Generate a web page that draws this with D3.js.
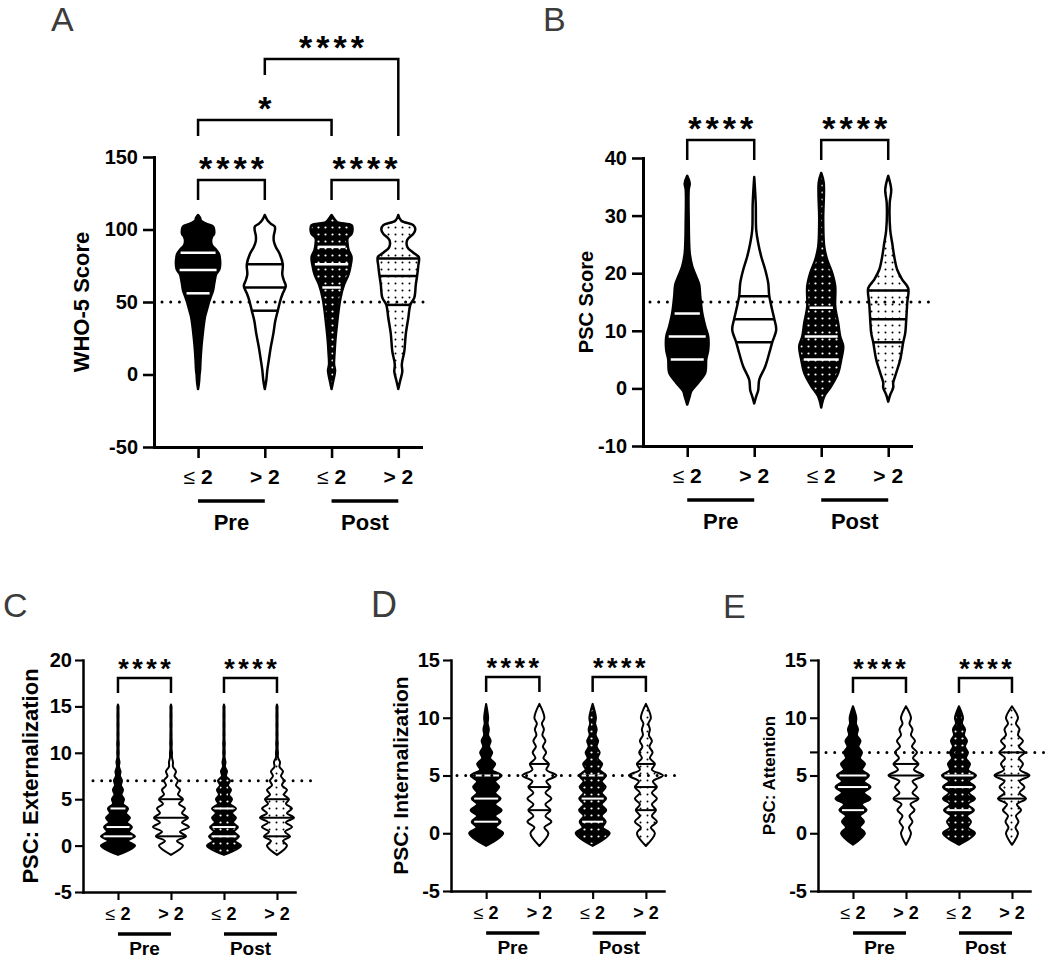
<!DOCTYPE html>
<html>
<head>
<meta charset="utf-8">
<script src="https://cdn.jsdelivr.net/npm/d3@7"></script>
<style>
body { margin: 0; background: #fff; }
svg { display: block; }
text { font-family: "Liberation Sans", Arial, sans-serif; }
</style>
</head>
<body>
<div id="fig"></div>
<script>
// ---- data ----
const groupLabels = ["≤ 2", "> 2", "≤ 2", "> 2"];
const periodLabels = ["Pre", "Post"];

// A: WHO-5, density profiles as [score, relative width]
const who5Ticks = [-50, 0, 50, 100, 150];
const who5Cutoff = 50;
const who5Quartiles = [[56, 72, 84], [44, 60, 76], [60, 76, 88], [48, 68, 80]];
const who5Density = [
  [[-10,0],[-5,1],[0,1.5],[3,2],[10,2.5],[20,3.5],[30,5],[40,7],[45,9],[50,11],[54,13],[58,15],[62,16],[66,17],[69,18],[72,21],[75,22],[79,22],[83,21],[86,18],[89,14],[92,13],[95,14],[97,16],[100,16],[102,15],[104,8],[106,3],[108,2],[110,0]],
  [[-10,0],[-4,1.5],[3,2.5],[10,4],[19,6],[28,8.5],[37,10.5],[44,13],[51,15.5],[56,18],[61,21],[65,19],[69,17.5],[76,18],[83,15],[88,11],[92,9],[96,9],[99,10],[102,10],[104,6],[106,3],[110,0]],
  [[-10,0],[-5,1.5],[0,3],[3,3.5],[7,2.5],[15,3],[25,4],[35,5.5],[44,7],[53,9],[62,12.5],[69,17],[75,19],[81,20],[86,17],[90,16],[94,16],[97,20],[100,21],[103,20],[105,6],[107,3],[110,0]],
  [[-10,0],[-4,2],[2,4],[7,3.5],[16,6],[28,7.5],[39,10],[48,12],[53,16],[62,17.5],[69,19],[75,20],[81,20.5],[84,15],[88,9],[93,9],[97,15],[100,17],[103,15],[106,3],[110,0]]
];
const who5Stats = [[0, 1, "****"], [2, 3, "****"], [0, 2, "*"], [1, 3, "****"]];

// B: PSC total
const pscTicks = [-10, 0, 10, 20, 30, 40];
const pscCutoff = 15;
const pscQuartiles = [[5, 9, 13], [8, 12, 16], [5, 9, 14], [8, 12, 17]];
const pscDensity = [
  [[-2.8,0],[-1.4,2.5],[-0.5,4],[1,11],[2.7,18],[5,19],[6.7,21],[9,21],[10.8,18],[13.1,15],[16,13],[18,12],[19.4,9],[21.2,5],[23.5,2.5],[29.3,1.5],[34.5,1.5],[35.6,2.5],[36.9,0]],
  [[-2.6,0],[-1.4,2],[-0.3,4],[1.5,5],[3.8,11],[6.1,15],[8,18],[10.2,22],[12.1,20],[13.6,18],[16.1,15],[18.3,14],[20.6,11],[22.9,7],[25.2,4],[27.5,2],[32.2,1.5],[36.7,0]],
  [[-3.3,0],[-1.4,3],[0.4,10],[2.7,17],[5,20],[7.3,22],[9,19],[11.3,17],[14.2,14],[17.7,14],[20,11],[22.3,6],[24.6,3],[29.3,2],[35.7,2.5],[37.4,0]],
  [[-2.3,0],[-1.1,2],[0.1,5],[1,5],[2.7,8],[5,12],[8,15],[9.6,17],[11.9,18],[14.8,19],[17.4,20],[18.9,14],[20.6,9],[22.9,6],[25.2,4],[27.5,2],[32.2,1.5],[34.5,3],[36.9,0]]
];
const pscStats = [[0, 1, "****"], [2, 3, "****"]];

// C: externalization (integer scores 0..15: widths at each score and between scores)
const extTicks = [-5, 0, 5, 10, 15, 20];
const extCutoff = 7;
const extQuartiles = [[1, 2, 4], [1, 3, 5], [1, 2, 4], [1, 3, 5]];
const extPeaks = [
  [17,17,14,12,10,6,5,4,2.5,1.5,0.8,0.8,0.6,0.6,0.6,0.5],
  [12,15,18,17,14,12,9,7,5,2,1,0.8,0.6,0.6,0.6,0.5],
  [17,15,14,12,12,8,7,6,3,1.5,0.8,0.8,0.6,0.6,0.6,0.5],
  [10,13,15,17,15,12,10,7,6,3,1,0.8,0.6,0.6,0.6,0.5]
];
const extNecks = [
  [10,11,9,8,5,3.5,3,2,1,0.6,0.6,0.5,0.5,0.5,0.5],
  [6,9,11,11,8,7,5,3.5,2,1,0.6,0.6,0.5,0.5,0.5],
  [11,10,9,8,6,5,4,2,1,0.6,0.6,0.5,0.5,0.5,0.5],
  [6,8,9,10,9,7,5,4,2.5,1,0.6,0.5,0.5,0.5,0.5]
];
const extRange = [-1, 15.2];
const extStats = [[0, 1, "****"], [2, 3, "****"]];

// D: internalization (scores 0..10)
const intTicks = [-5, 0, 5, 10, 15];
const intCutoff = 5;
const intQuartiles = [[1, 3, 5], [2, 4, 6], [1, 3, 5], [2, 4, 6]];
const intPeaks = [
  [17,14.5,15.5,14.5,13,15.5,9,6,4.5,2.7,2],
  [9,12,11,12,11,17,9.5,6.7,6,4.5,5],
  [17,13,13.5,13.5,13,13.5,9.5,7,5.5,4,3.3],
  [9,11,10,11,11,17,9,6.7,6,4,5]
];
const intNecks = [
  [9.5,9,9,9,9,6,4,3,2,1.5],
  [5,6,6,6,7,7,4,3.5,3,2.5],
  [10,9,9,9,9,7,5,4,3,2.5],
  [5,6,6,6,7,6,4,3.5,3,2.5]
];
const intRange = [-1.1, 11.2];
const intStats = [[0, 1, "****"], [2, 3, "****"]];

// E: attention (scores 0..10)
const attTicks = [-5, 0, 5, 10, 15];
const attCutoff = 7;
const attQuartiles = [[2, 4, 5], [3, 5, 6], [2, 4, 5], [3, 5, 7]];
const attPeaks = [
  [12,11,13.5,17.5,17.5,16,12,9,7.5,5,3.3],
  [5,6.5,8.5,12.5,11,17.5,12.5,11,9,6.5,5],
  [16,12,15,16,16,17,11,9,8,6,4],
  [6,6.5,9,14,12.5,17.5,11,12.5,11,7.5,6]
];
const attNecks = [
  [7,7,9,11,11,9,7,5.5,4,3],
  [3,3.5,4.5,6.5,6.5,8,7,6,5,3.5],
  [9,8,9,10,10,9,7,6,5,3],
  [3.5,4,5,7.5,7.5,8,7,7,6,4]
];
const attRange = [-1, 11];
const attStats = [[0, 1, "****"], [2, 3, "****"]];

// ---- helpers ----
function discreteProfile(peaks, necks, range) {
  const prof = [[range[0], 0]];
  peaks.forEach((p, k) => {
    prof.push([k, p]);
    if (k < necks.length) prof.push([k + 0.5, necks[k]]);
  });
  prof.push([range[1], 0]);
  return prof;
}
function widthAt(prof, v) {
  for (let i = 1; i < prof.length; i++) {
    if (v <= prof[i][0]) {
      const a = prof[i - 1], b = prof[i];
      return a[1] + (b[1] - a[1]) * (v - a[0]) / (b[0] - a[0]);
    }
  }
  return 0;
}

// ---- layout ----
const panels = [
  { letter: "A", lx: 51, ly: 31, lsize: 34, axisX: 154, yTop: 157, yBot: 447, xEnd: 421,
    domain: [-50, 150], ticks: who5Ticks, cutoff: who5Cutoff, quart: who5Quartiles,
    profiles: who5Density, stats: who5Stats, dens: 22,
    title: "WHO-5 Score", titleX: 81, titleSize: 22, tickFont: 20, tickLen: 11, tickPad: 5,
    catFont: 21, grpFont: 22, catDy: 37, lineDy: 54, grpDy: 83, axisW: 3, vW: 2.5,
    dotFrom: 162, dotTo: 430, cutTick: false, starFont: 34, starLs: 4, starGap: 19,
    brackets: [{ top: 180, l: 200, r: 200 }, { top: 180, l: 200, r: 200 }, { top: 120, l: 136, r: 136 }, { top: 59, l: 75, r: 136 }] },
  { letter: "B", lx: 543, ly: 31, lsize: 34, axisX: 643, yTop: 158, yBot: 446, xEnd: 911,
    domain: [-10, 40], ticks: pscTicks, cutoff: pscCutoff, quart: pscQuartiles,
    profiles: pscDensity, stats: pscStats, dens: 22,
    title: "PSC Score", titleX: 586, titleSize: 20, tickFont: 20, tickLen: 11, tickPad: 5,
    catFont: 21, grpFont: 22, catDy: 37, lineDy: 54, grpDy: 83, axisW: 3, vW: 2.5,
    dotFrom: 650, dotTo: 932, cutTick: false, starFont: 34, starLs: 4, starGap: 19,
    brackets: [{ top: 140, l: 160, r: 160 }, { top: 140, l: 160, r: 160 }] },
  { letter: "C", lx: 3, ly: 617, lsize: 34, axisX: 83, yTop: 660, yBot: 892, xEnd: 295,
    domain: [-5, 20], ticks: extTicks, cutoff: extCutoff, quart: extQuartiles,
    profiles: extPeaks.map((p, i) => discreteProfile(p, extNecks[i], extRange)), stats: extStats, dens: 17,
    title: "PSC: Externalization", titleX: 30, titleSize: 22, tickFont: 20, tickLen: 8, tickPad: 3,
    catFont: 18, grpFont: 19, catDy: 28, lineDy: 42, grpDy: 63, axisW: 2.5, vW: 2,
    dotFrom: 93, dotTo: 312, cutTick: false, starFont: 27, starLs: 3.5, starGap: 15,
    brackets: [{ top: 678, l: 693, r: 693 }, { top: 678, l: 693, r: 693 }] },
  { letter: "D", lx: 371, ly: 617, lsize: 36, axisX: 451, yTop: 660, yBot: 891, xEnd: 664,
    domain: [-5, 15], ticks: intTicks, cutoff: intCutoff, quart: intQuartiles,
    profiles: intPeaks.map((p, i) => discreteProfile(p, intNecks[i], intRange)), stats: intStats, dens: 17,
    title: "PSC: Internalization", titleX: 400, titleSize: 21, tickFont: 20, tickLen: 8, tickPad: 3,
    catFont: 18, grpFont: 19, catDy: 28, lineDy: 42, grpDy: 63, axisW: 2.5, vW: 2,
    dotFrom: 457, dotTo: 682, cutTick: false, starFont: 27, starLs: 3.5, starGap: 15,
    brackets: [{ top: 677, l: 692, r: 692 }, { top: 677, l: 692, r: 692 }] },
  { letter: "E", lx: 723, ly: 618, lsize: 34, axisX: 818, yTop: 660, yBot: 891, xEnd: 1030,
    domain: [-5, 15], ticks: attTicks, cutoff: attCutoff, quart: attQuartiles,
    profiles: attPeaks.map((p, i) => discreteProfile(p, attNecks[i], attRange)), stats: attStats, dens: 17,
    title: "PSC: Attention", titleX: 769, titleSize: 17, tickFont: 20, tickLen: 8, tickPad: 3,
    catFont: 18, grpFont: 19, catDy: 28, lineDy: 42, grpDy: 63, axisW: 2.5, vW: 2,
    dotFrom: 826, dotTo: 1048, cutTick: true, starFont: 27, starLs: 3.5, starGap: 15,
    brackets: [{ top: 678, l: 693, r: 693 }, { top: 678, l: 693, r: 693 }] }
];

const svg = d3.select("#fig").append("svg").attr("width", 1052).attr("height", 963);
const defs = svg.append("defs");
function dotPattern(id, bg, fg, step, r) {
  const p = defs.append("pattern").attr("id", id).attr("patternUnits", "userSpaceOnUse")
    .attr("width", step).attr("height", step);
  p.append("rect").attr("width", step).attr("height", step).attr("fill", bg);
  p.append("circle").attr("cx", step / 2).attr("cy", step / 2).attr("r", r).attr("fill", fg);
}
dotPattern("dotW", "#000", "#fff", 7, 1.1);
dotPattern("dotB", "#fff", "#000", 7, 1);
const fills = ["#000", "#fff", "url(#dotW)", "url(#dotB)"];
const qColors = ["#fff", "#000", "#fff", "#000"];

panels.forEach(P => {
  const g = svg.append("g");
  const y = d3.scaleLinear().domain(P.domain).range([P.yBot, P.yTop]);
  const x = d3.scalePoint().domain([0, 1, 2, 3]).range([P.axisX, P.xEnd]).padding(0.5).align(0.66);
  const w = d3.scaleLinear().domain([0, P.dens]).range([0, P.dens]);

  // panel letter
  g.append("text").attr("x", P.lx).attr("y", P.ly).attr("font-size", P.lsize)
    .attr("fill", "#3c3c3c").text(P.letter);

  // violins
  P.profiles.forEach((prof, i) => {
    const cx = x(i);
    const area = d3.area().y(d => y(d[0]))
      .x0(d => cx - w(d[1])).x1(d => cx + w(d[1]))
      .curve(d3.curveCatmullRom.alpha(0.5));
    g.append("path").datum(prof).attr("d", area)
      .attr("fill", fills[i]).attr("stroke", "#000")
      .attr("stroke-width", P.vW).attr("stroke-linejoin", "round");
    P.quart[i].forEach(q => {
      const hw = w(widthAt(prof, q)) - (qColors[i] === "#fff" ? 2.5 : 0);
      g.append("line").attr("x1", cx - hw).attr("x2", cx + hw)
        .attr("y1", y(q)).attr("y2", y(q))
        .attr("stroke", qColors[i]).attr("stroke-width", P.vW);
    });
  });

  // dotted cut-off line
  g.append("line").attr("x1", P.dotFrom).attr("x2", P.dotTo)
    .attr("y1", y(P.cutoff)).attr("y2", y(P.cutoff))
    .attr("stroke", "#000").attr("stroke-width", 3)
    .attr("stroke-linecap", "round").attr("stroke-dasharray", "0 8.7");
  if (P.cutTick) {
    g.append("line").attr("x1", P.axisX - P.tickLen).attr("x2", P.axisX)
      .attr("y1", y(P.cutoff)).attr("y2", y(P.cutoff))
      .attr("stroke", "#000").attr("stroke-width", P.axisW * 0.85);
  }

  // y axis
  const ya = g.append("g").attr("transform", `translate(${P.axisX},0)`)
    .call(d3.axisLeft(y).tickValues(P.ticks).tickFormat(d => String(d))
      .tickSize(P.tickLen).tickPadding(P.tickPad).tickSizeOuter(0));
  ya.select(".domain").attr("stroke-width", P.axisW).attr("stroke-linecap", "square");
  ya.selectAll(".tick line").attr("stroke-width", P.axisW * 0.85);
  ya.selectAll(".tick text").attr("font-size", P.tickFont).attr("font-weight", "bold")
    .attr("font-family", "Liberation Sans, Arial, sans-serif").attr("fill", "#000");

  // x axis
  const xa = g.append("g").attr("transform", `translate(0,${P.yBot})`)
    .call(d3.axisBottom(x).tickSize(P.tickLen).tickSizeOuter(0).tickFormat(() => ""));
  xa.select(".domain").attr("stroke-width", P.axisW).attr("stroke-linecap", "square");
  xa.selectAll(".tick line").attr("stroke-width", P.axisW * 0.85);

  groupLabels.forEach((lab, i) => {
    const t = g.append("text").attr("x", x(i)).attr("y", P.yBot + P.catDy)
      .attr("text-anchor", "middle").attr("font-size", P.catFont).attr("font-weight", "bold");
    const parts = lab.split(" ");
    t.append("tspan").attr("font-weight", parts[0] === "≤" ? "normal" : "bold").text(parts[0] + " ");
    t.append("tspan").text(parts[1]);
  });
  periodLabels.forEach((lab, k) => {
    g.append("line").attr("x1", x(2 * k)).attr("x2", x(2 * k + 1))
      .attr("y1", P.yBot + P.lineDy).attr("y2", P.yBot + P.lineDy)
      .attr("stroke", "#000").attr("stroke-width", 3.5);
    g.append("text").attr("x", (x(2 * k) + x(2 * k + 1)) / 2).attr("y", P.yBot + P.grpDy)
      .attr("text-anchor", "middle").attr("font-size", P.grpFont).attr("font-weight", "bold")
      .text(lab);
  });

  // y title
  g.append("text")
    .attr("transform", `translate(${P.titleX + 0.36 * P.titleSize},${(P.yTop + P.yBot) / 2}) rotate(-90)`)
    .attr("text-anchor", "middle").attr("font-size", P.titleSize).attr("font-weight", "bold")
    .text(P.title);

  // significance brackets
  P.stats.forEach((s, k) => {
    const b = P.brackets[k];
    const x1 = x(s[0]), x2 = x(s[1]);
    g.append("path").attr("d", `M${x1},${b.l}V${b.top}H${x2}V${b.r}`)
      .attr("fill", "none").attr("stroke", "#000").attr("stroke-width", 2.5);
    g.append("text").attr("x", (x1 + x2) / 2 + P.starLs / 2)
      .attr("y", b.top - P.starGap + 0.56 * P.starFont)
      .attr("text-anchor", "middle").attr("font-size", P.starFont).attr("font-weight", "bold")
      .attr("letter-spacing", P.starLs).text(s[2]);
  });
});
</script>
</body>
</html>
